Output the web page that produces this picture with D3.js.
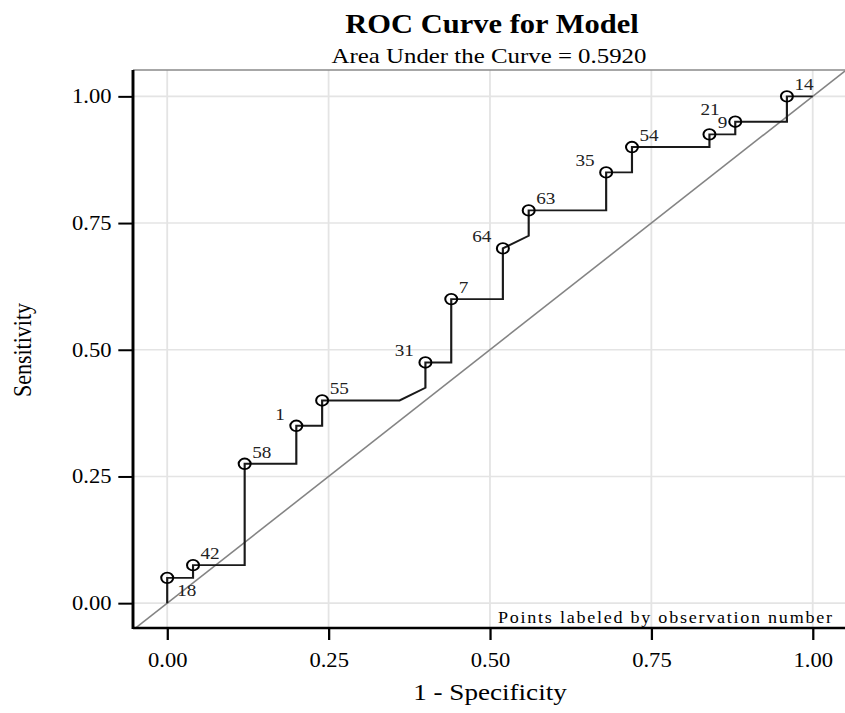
<!DOCTYPE html>
<html>
<head>
<meta charset="utf-8">
<script src="https://cdn.jsdelivr.net/npm/d3@7"></script>
<style>
  body { margin: 0; background: #fff; }
  svg text { font-family: "Liberation Serif", "Times New Roman", serif; fill: #000; }
</style>
</head>
<body>
<div id="chart"></div>
<script>
// labelled ROC points (observation number, 1 - specificity, sensitivity)
const obsLabels = [18, 42, 58, 1, 55, 31, 7, 64, 63, 35, 54, 21, 9, 14];
const pointX = [0, 0.04, 0.12, 0.20, 0.24, 0.40, 0.44, 0.52, 0.56, 0.68, 0.72, 0.84, 0.88, 0.96];
const pointY = [0.05, 0.075, 0.275, 0.35, 0.40, 0.475, 0.60, 0.70, 0.775, 0.85, 0.90, 0.925, 0.95, 1.00];

// every vertex of the ROC curve, including the unlabelled ones
const curveX = [0, 0, 0.04, 0.04, 0.12, 0.12, 0.20, 0.20, 0.24, 0.24,
                0.36, 0.40, 0.40, 0.44, 0.44, 0.52, 0.52, 0.56, 0.56, 0.68,
                0.68, 0.72, 0.72, 0.84, 0.84, 0.88, 0.88, 0.96, 0.96, 1.00];
const curveY = [0, 0.05, 0.05, 0.075, 0.075, 0.275, 0.275, 0.35, 0.35, 0.40,
                0.40, 0.425, 0.475, 0.475, 0.60, 0.60, 0.70, 0.725, 0.775, 0.775,
                0.85, 0.85, 0.90, 0.90, 0.925, 0.925, 0.95, 0.95, 1.00, 1.00];

const tickValues = [0, 0.25, 0.5, 0.75, 1];
const tickLabels = ["0.00", "0.25", "0.50", "0.75", "1.00"];

const chartTitle = "ROC Curve for Model";
const chartSubtitle = "Area Under the Curve = 0.5920";
const xTitle = "1 - Specificity";
const yTitle = "Sensitivity";
const footNote = "Points labeled by observation number";

// where each label sits next to its point (default is up-right)
const labelSide = {18: "se", 1: "nw", 31: "nw", 64: "nw", 35: "nw", 21: "n", 9: "w"};

function drawChart(container) {
  const width = 845, height = 713;
  const sx = 1.13; // the picture is stretched sideways, so everything is drawn in a stretched group

  const svg = d3.select(container).append("svg")
    .attr("width", width)
    .attr("height", height)
    .style("background", "#fff");

  const g = svg.append("g").attr("transform", `scale(${sx},1)`);

  // frame covers a little more than 0..1 on both axes
  const x = d3.scaleLinear().domain([-0.053, 1.05]).range([133 / sx, 845 / sx]);
  const y = d3.scaleLinear().domain([-0.049, 1.052]).range([628, 70]);
  const [fl, fr] = x.range();
  const [fb, ft] = y.range();

  g.append("clipPath").attr("id", "frame")
    .append("rect").attr("x", fl).attr("y", ft).attr("width", fr - fl).attr("height", fb - ft);

  // grid
  const grid = g.append("g").attr("stroke", "#e4e4e4").attr("stroke-width", 1.6);
  grid.selectAll(".gx").data(tickValues).join("line")
    .attr("x1", d => x(d)).attr("x2", d => x(d)).attr("y1", ft).attr("y2", fb);
  grid.selectAll(".gy").data(tickValues).join("line")
    .attr("y1", d => y(d)).attr("y2", d => y(d)).attr("x1", fl).attr("x2", fr);

  // chance diagonal
  g.append("line")
    .attr("clip-path", "url(#frame)")
    .attr("x1", x(-0.06)).attr("y1", y(-0.06))
    .attr("x2", x(1.06)).attr("y2", y(1.06))
    .attr("stroke", "#848484").attr("stroke-width", 1.5);

  // ROC curve
  const line = d3.line().x(i => x(curveX[i])).y(i => y(curveY[i]));
  g.append("path")
    .datum(d3.range(curveX.length))
    .attr("d", line)
    .attr("fill", "none")
    .attr("stroke", "#1a1a1a")
    .attr("stroke-width", 1.9);

  // points
  g.append("g").selectAll("circle").data(obsLabels).join("circle")
    .attr("cx", (d, i) => x(pointX[i]))
    .attr("cy", (d, i) => y(pointY[i]))
    .attr("r", 5.3)
    .attr("fill", "none")
    .attr("stroke", "#000")
    .attr("stroke-width", 1.8);

  const place = {
    ne: {anchor: "start", dx: 7.5, dy: -6},
    nw: {anchor: "end", dx: -11.5, dy: -6},
    se: {anchor: "start", dx: 10, dy: 18},
    n:  {anchor: "start", dx: -9, dy: -19},
    w:  {anchor: "end", dx: -8, dy: 6}
  };
  g.append("g").selectAll("text").data(obsLabels).join("text")
    .each(function(d, i) {
      const p = place[labelSide[d] || "ne"];
      d3.select(this)
        .attr("x", x(pointX[i]) + p.dx / sx)
        .attr("y", y(pointY[i]) + p.dy)
        .attr("text-anchor", p.anchor);
    })
    .style("font-size", "17px")
    .style("fill", "#222")
    .text(d => d);

  // axes
  const xAxis = d3.axisBottom(x)
    .tickValues(tickValues)
    .tickFormat((d, i) => tickLabels[i])
    .tickSize(12)
    .tickPadding(12.8)
    .tickSizeOuter(0);
  const yAxis = d3.axisLeft(y)
    .tickValues(tickValues)
    .tickFormat((d, i) => tickLabels[i])
    .tickSize(13)
    .tickPadding(6)
    .tickSizeOuter(0);

  const gx = g.append("g").attr("transform", `translate(0,${fb})`).call(xAxis);
  const gy = g.append("g").attr("transform", `translate(${fl},0)`).call(yAxis);
  [gx, gy].forEach(a => {
    a.select(".domain").remove();
    a.attr("font-family", null);
    a.selectAll(".tick line").attr("stroke", "#000").attr("stroke-width", 2);
    a.selectAll(".tick text").style("font-size", "20px");
  });

  // frame lines
  g.append("line").attr("x1", fl).attr("x2", fr).attr("y1", ft).attr("y2", ft)
    .attr("stroke", "#8a8a8a").attr("stroke-width", 1.5);
  g.append("line").attr("x1", fl).attr("x2", fl).attr("y1", ft).attr("y2", fb + 1)
    .attr("stroke", "#000").attr("stroke-width", 2.6);
  g.append("line").attr("x1", fl).attr("x2", fr).attr("y1", fb).attr("y2", fb)
    .attr("stroke", "#000").attr("stroke-width", 2.6);

  // titles
  g.append("text")
    .attr("x", 492 / sx).attr("y", 33)
    .attr("text-anchor", "middle")
    .style("font-size", "27px").style("font-weight", "bold")
    .text(chartTitle);
  g.append("text")
    .attr("x", 489 / sx).attr("y", 63)
    .attr("text-anchor", "middle")
    .style("font-size", "22px")
    .text(chartSubtitle);
  g.append("text")
    .attr("x", 490 / sx).attr("y", 700)
    .attr("text-anchor", "middle")
    .style("font-size", "24px")
    .text(xTitle);
  g.append("text")
    .attr("transform", `translate(${31 / sx},350) rotate(-90)`)
    .attr("text-anchor", "middle")
    .style("font-size", "22px")
    .text(yTitle);

  g.append("text")
    .attr("x", 832 / sx).attr("y", 623)
    .attr("text-anchor", "end")
    .attr("textLength", 334 / sx)
    .attr("lengthAdjust", "spacing")
    .style("font-size", "16px")
    .text(footNote);
}

drawChart(document.getElementById("chart"));
</script>
</body>
</html>
